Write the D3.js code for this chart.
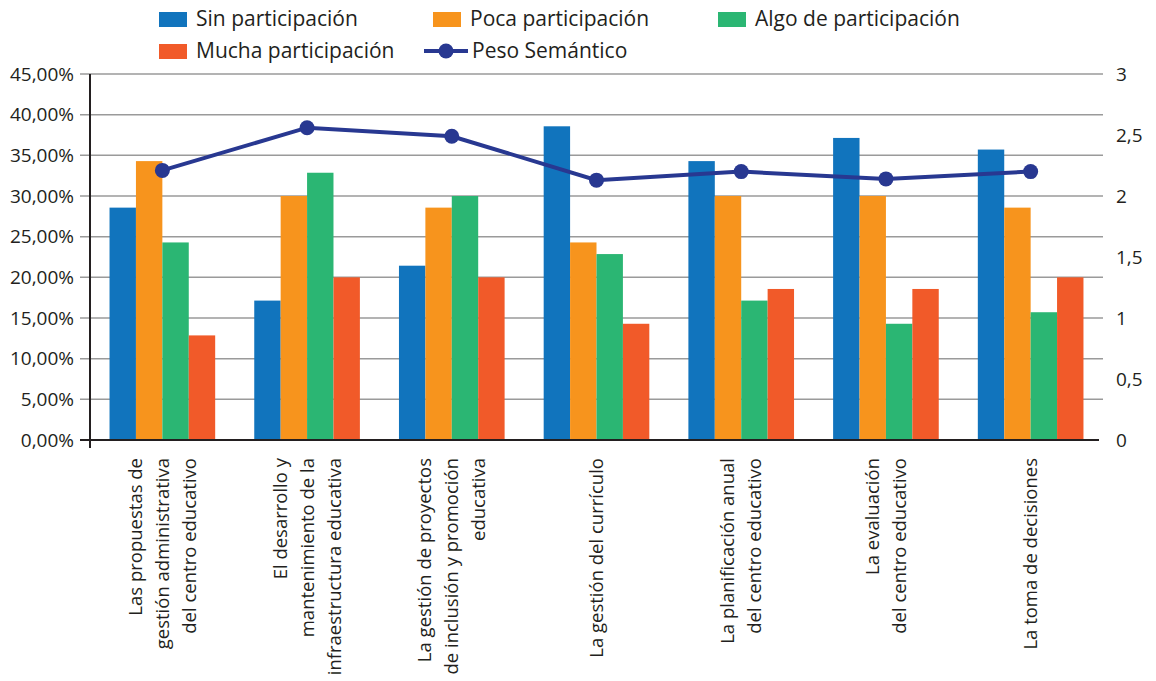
<!DOCTYPE html>
<meta charset="utf-8">
<style>
    body { margin: 0; background: #fff; }
    svg text { font-family: "Open Sans", sans-serif; fill: #231f20; }
</style>
<svg id="canvas" width="1156" height="681"></svg>
<script src="https://d3js.org/d3.v7.min.js"></script>
<script>

    var categories = [
        ["Las propuestas de", "gestión administrativa", "del centro educativo"],
        ["El desarrollo y", "mantenimiento de la", "infraestructura educativa"],
        ["La gestión de proyectos", "de inclusión y promoción", "educativa"],
        ["La gestión del currículo"],
        ["La planificación anual", "del centro educativo"],
        ["La evaluación", "del centro educativo"],
        ["La toma de decisiones"]
    ];

    var seriesNames = ["Sin participación", "Poca participación", "Algo de participación", "Mucha participación"];
    var lineName = "Peso Semántico";

    var sinParticipacion   = [28.57, 17.14, 21.43, 38.57, 34.29, 37.14, 35.71];
    var pocaParticipacion  = [34.29, 30.00, 28.57, 24.29, 30.00, 30.00, 28.57];
    var algoParticipacion  = [24.29, 32.86, 30.00, 22.86, 17.14, 14.29, 15.71];
    var muchaParticipacion = [12.86, 20.00, 20.00, 14.29, 18.57, 18.57, 20.00];
    var pesoSemantico      = [2.21, 2.56, 2.49, 2.13, 2.20, 2.14, 2.20];

    var leftTicks = [0, 5, 10, 15, 20, 25, 30, 35, 40, 45];
    var rightTicks = [0, 0.5, 1, 1.5, 2, 2.5, 3];

    var colors = ["#1174bd", "#f7941d", "#2bb673", "#f15a29"];
    var lineColor = "#283891";

    var svg = d3.select("svg");
    var plotL = 90, plotR = 1103, plotT = 74, plotB = 440;

    var series = [sinParticipacion, pocaParticipacion, algoParticipacion, muchaParticipacion];

    var x0 = d3.scaleBand()
        .domain(d3.range(categories.length))
        .range([plotL, plotR])
        .paddingInner(0.27)
        .paddingOuter(0.135);

    var x1 = d3.scaleBand()
        .domain(d3.range(series.length))
        .range([0, x0.bandwidth()]);

    var y = d3.scaleLinear().domain([0, 45]).range([plotB, plotT]);
    var y2 = d3.scaleLinear().domain([0, 3]).range([plotB, plotT]);

    // gridlines
    svg.append("g")
        .selectAll("line")
        .data(leftTicks.slice(1))
        .enter().append("line")
        .attr("x1", plotL - 10).attr("x2", plotR)
        .attr("y1", function(d) { return y(d); })
        .attr("y2", function(d) { return y(d); })
        .attr("stroke", "#9a9a9a")
        .attr("stroke-width", 1.5);

    // left axis
    var fmt = function(d) { return d3.format(".2f")(d).replace(".", ",") + "%"; };
    var gLeft = svg.append("g")
        .attr("transform", "translate(" + plotL + ",0)")
        .call(d3.axisLeft(y).tickValues(leftTicks).tickFormat(fmt).tickSize(0).tickPadding(16));
    gLeft.select(".domain").remove();
    gLeft.selectAll("text").attr("font-size", "19px").attr("fill", "#231f20");

    // right axis
    var gRight = svg.append("g")
        .attr("transform", "translate(" + (plotR + 13) + ",0)")
        .call(d3.axisRight(y2).tickValues(rightTicks)
              .tickFormat(function(d) { return String(d).replace(".", ","); })
              .tickSize(0).tickPadding(0));
    gRight.select(".domain").remove();
    gRight.selectAll("text").attr("font-size", "19px").attr("fill", "#231f20");

    // bars
    var groups = svg.append("g")
        .selectAll("g")
        .data(categories)
        .enter().append("g")
        .attr("transform", function(d, i) { return "translate(" + x0(i) + ",0)"; });

    groups.selectAll("rect")
        .data(function(d, i) { return series.map(function(s, k) { return { k: k, v: s[i] }; }); })
        .enter().append("rect")
        .attr("x", function(d) { return x1(d.k); })
        .attr("width", x1.bandwidth())
        .attr("y", function(d) { return y(d.v); })
        .attr("height", function(d) { return y(0) - y(d.v); })
        .attr("fill", function(d) { return colors[d.k]; });

    // axis lines
    svg.append("line")
        .attr("x1", plotL).attr("x2", plotL)
        .attr("y1", plotT).attr("y2", plotB + 8)
        .attr("stroke", "#231f20").attr("stroke-width", 2);
    svg.append("line")
        .attr("x1", plotL - 10).attr("x2", plotR - 4)
        .attr("y1", plotB).attr("y2", plotB)
        .attr("stroke", "#231f20").attr("stroke-width", 2);

    // line series
    var cx = function(i) { return x0(i) + x0.bandwidth() / 2; };
    var line = d3.line()
        .x(function(d, i) { return cx(i); })
        .y(function(d) { return y2(d); });

    svg.append("path")
        .datum(pesoSemantico)
        .attr("d", line)
        .attr("fill", "none")
        .attr("stroke", lineColor)
        .attr("stroke-width", 4);

    svg.append("g")
        .selectAll("circle")
        .data(pesoSemantico)
        .enter().append("circle")
        .attr("cx", function(d, i) { return cx(i); })
        .attr("cy", function(d) { return y2(d); })
        .attr("r", 7.5)
        .attr("fill", lineColor);

    // category labels, rotated
    var lineGap = 27;
    groups.each(function(lines, i) {
        var g = d3.select(this);
        lines.forEach(function(t, j) {
            var off = (j - (lines.length - 1) / 2) * lineGap;
            g.append("text")
                .attr("transform", "translate(" + (x0.bandwidth() / 2 + off) + "," + (plotB + 18) + ") rotate(-90)")
                .attr("text-anchor", "end")
                .attr("dy", "0.35em")
                .attr("font-size", "18.5px")
                .text(t);
        });
    });

    // legend
    var legendPos = [[159, 19], [433, 19], [718, 19], [159, 51]];
    var legend = svg.append("g");
    seriesNames.forEach(function(name, k) {
        var p = legendPos[k];
        legend.append("rect")
            .attr("x", p[0]).attr("y", p[1] - 7)
            .attr("width", 28).attr("height", 15)
            .attr("fill", colors[k]);
        legend.append("text")
            .attr("x", p[0] + 37).attr("y", p[1])
            .attr("dy", "0.35em")
            .attr("font-size", "21px")
            .text(name);
    });
    legend.append("line")
        .attr("x1", 424).attr("x2", 468)
        .attr("y1", 51).attr("y2", 51)
        .attr("stroke", lineColor).attr("stroke-width", 4);
    legend.append("circle")
        .attr("cx", 446).attr("cy", 51).attr("r", 7.5)
        .attr("fill", lineColor);
    legend.append("text")
        .attr("x", 472).attr("y", 51)
        .attr("dy", "0.35em")
        .attr("font-size", "21px")
        .text(lineName);

</script>
